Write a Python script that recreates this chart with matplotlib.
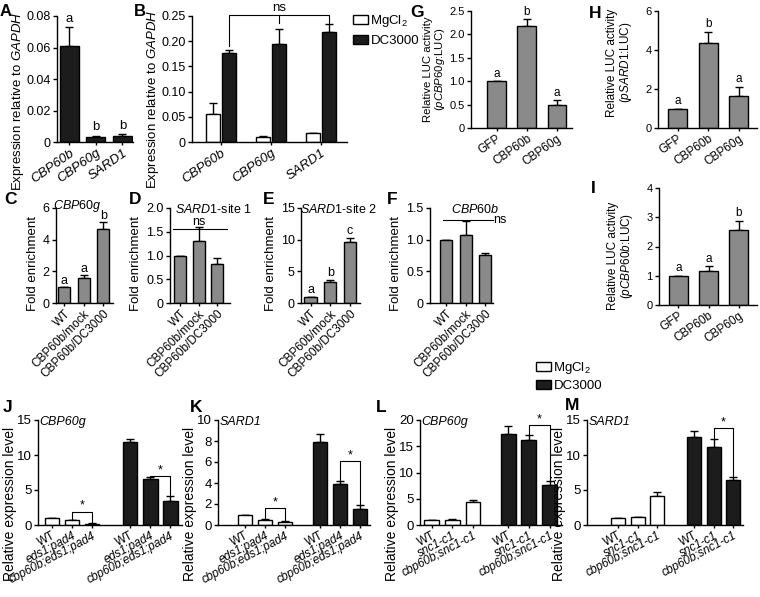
import numpy as np
import matplotlib
matplotlib.use("Agg")
import matplotlib.pyplot as plt
from matplotlib.patches import Patch

plt.rcParams["font.family"] = ["Liberation Sans", "DejaVu Sans"]
plt.rcParams["mathtext.fontset"] = "custom"
plt.rcParams["mathtext.rm"] = "Liberation Sans"
plt.rcParams["mathtext.it"] = "Liberation Sans:italic"
plt.rcParams["font.size"] = 8.5
plt.rcParams["axes.linewidth"] = 1.0

# ---- data ----
a_genes = ["CBP60b", "CBP60g", "SARD1"]
a_mean = [0.061, 0.003, 0.004]
a_err = [0.012, 0.001, 0.001]
a_sig = ["a", "b", "b"]

b_genes = ["CBP60b", "CBP60g", "SARD1"]
b_mgcl2 = [0.056, 0.010, 0.017]
b_mgcl2_err = [0.022, 0.001, 0.001]
b_dc3000 = [0.176, 0.194, 0.218]
b_dc3000_err = [0.007, 0.031, 0.016]

luc_lines = ["GFP", "CBP60b", "CBP60g"]
g_mean = [1.0, 2.18, 0.49]
g_err = [0.0, 0.14, 0.11]
g_sig = ["a", "b", "a"]
h_mean = [1.0, 4.38, 1.65]
h_err = [0.0, 0.55, 0.47]
h_sig = ["a", "b", "a"]
i_mean = [1.0, 1.15, 2.55]
i_err = [0.0, 0.17, 0.33]
i_sig = ["a", "a", "b"]

chip_samples = ["WT", "CBP60b/mock", "CBP60b/DC3000"]
c_mean = [1.0, 1.55, 4.7]
c_err = [0.0, 0.25, 0.4]
c_sig = ["a", "a", "b"]
d_mean = [1.0, 1.3, 0.83]
d_err = [0.0, 0.3, 0.11]
e_mean = [1.0, 3.3, 9.7]
e_err = [0.0, 0.4, 0.6]
e_sig = ["a", "b", "c"]
f_mean = [1.0, 1.07, 0.76]
f_err = [0.0, 0.23, 0.03]

jk_genotypes = ["WT", "eds1;pad4", "cbp60b;eds1;pad4"]
lm_genotypes = ["WT", "snc1-c1", "cbp60b;snc1-c1"]
j_mgcl2 = [1.0, 0.72, 0.2]
j_mgcl2_err = [0.0, 0.0, 0.03]
j_dc = [11.9, 6.6, 3.5]
j_dc_err = [0.45, 0.25, 0.7]
k_mgcl2 = [1.0, 0.52, 0.33]
k_mgcl2_err = [0.0, 0.04, 0.04]
k_dc = [7.95, 3.9, 1.5]
k_dc_err = [0.75, 0.3, 0.45]
l_mgcl2 = [1.0, 1.0, 4.45]
l_mgcl2_err = [0.0, 0.05, 0.35]
l_dc = [17.4, 16.1, 7.7]
l_dc_err = [1.4, 1.0, 0.7]
m_mgcl2 = [1.0, 1.1, 4.1]
m_mgcl2_err = [0.0, 0.05, 0.55]
m_dc = [12.6, 11.1, 6.4]
m_dc_err = [0.85, 1.2, 0.4]

GREY = "#8a8a8a"
BLACK = "#1c1c1c"
W, H = 760, 597

fig = plt.figure(figsize=(7.6, 5.97), dpi=100)


def add_ax(x0, x1, y0, y1, tsize=9.5):
    ax = fig.add_axes([x0 / W, 1 - y1 / H, (x1 - x0) / W, (y1 - y0) / H])
    ax.spines["top"].set_visible(False)
    ax.spines["right"].set_visible(False)
    ax.tick_params(direction="out", length=3, width=1, pad=1.5, labelsize=tsize)
    ax.tick_params(axis="x", length=2)
    return ax


def bars(ax, x, mean, err, color, width):
    ax.bar(x, mean, width, color=color, edgecolor="black", linewidth=1, zorder=2)
    ax.errorbar(x, mean, yerr=[np.zeros(len(err)), err], fmt="none", ecolor="black",
                elinewidth=1, capsize=3, capthick=1, zorder=1)


def sig_letters(ax, x, mean, err, sig, pad, size=9.5):
    for xi, m, e, s in zip(x, mean, err, sig):
        ax.text(xi, m + e + pad, s, ha="center", va="bottom", fontsize=size)


def xlabels(ax, x, labels, rot, italic=None, size=9):
    ax.set_xticks(x)
    ax.set_xticklabels(labels, rotation=rot, ha="right", rotation_mode="anchor", fontsize=size)
    if italic is not None:
        for lbl, it in zip(ax.get_xticklabels(), italic):
            lbl.set_fontstyle("italic" if it else "normal")


def letter(x, y, s, size=12.5):
    fig.text(x / W, 1 - y / H, s, fontsize=size, fontweight="bold", va="top", ha="left")


# ---- A ----
ax = add_ax(57, 133, 16, 142, 9)
xa = np.arange(3)
bars(ax, xa, a_mean, a_err, BLACK, 0.72)
sig_letters(ax, xa, a_mean, a_err, a_sig, 0.0015)
ax.set_xlim(-0.47, 2.4)
ax.set_ylim(0, 0.08)
ax.set_yticks([0, 0.02, 0.04, 0.06, 0.08])
ax.set_yticklabels(["0", "0.02", "0.04", "0.06", "0.08"])
xlabels(ax, xa, a_genes, 35, [True] * 3, 9.5)
ax.set_ylabel(r"Expression relative to $\mathit{GAPDH}$", fontsize=9.5, labelpad=0.5, y=0.32)
letter(0, 4, "A", 12)

# ---- B ----
ax = add_ax(192, 347, 16, 142, 9)
xb = np.arange(3)
bars(ax, xb - 0.16, b_mgcl2, b_mgcl2_err, "white", 0.28)
bars(ax, xb + 0.16, b_dc3000, b_dc3000_err, BLACK, 0.28)
ax.set_xlim(-0.58, 2.52)
ax.set_ylim(0, 0.25)
ax.set_yticks([0, 0.05, 0.10, 0.15, 0.20, 0.25])
ax.set_yticklabels(["0", "0.05", "0.10", "0.15", "0.20", "0.25"])
xlabels(ax, xb, b_genes, 35, [True] * 3, 9.5)
ax.set_ylabel(r"Expression relative to $\mathit{GAPDH}$", fontsize=9.5, labelpad=0.5, y=0.34)
yb = 0.252
ax.plot([0.16, 0.16, 2.16, 2.16], [0.19, yb, yb, 0.236], color="black", lw=0.8, clip_on=False)
ax.plot([1.16, 1.16], [yb, 0.236], color="black", lw=0.8, clip_on=False)
ax.text(1.16, yb + 0.002, "ns", ha="center", va="bottom", fontsize=9.5)
letter(134, 4, "B", 12)
fig.legend(handles=[Patch(facecolor="white", edgecolor="black", label=r"MgCl$_2$"),
                    Patch(facecolor=BLACK, edgecolor="black", label="DC3000")],
           loc="upper left", bbox_to_anchor=(348 / W, 1 - 8 / H), frameon=False,
           fontsize=9.5, handlelength=1.1, handleheight=0.7, handletextpad=0.2,
           labelspacing=0.45, borderaxespad=0)

# ---- G ----
xg = np.arange(3)
ax = add_ax(471, 572, 11, 128, 8)
bars(ax, xg, g_mean, g_err, GREY, 0.62)
sig_letters(ax, xg, g_mean, g_err, g_sig, 0.03, 8.5)
ax.set_xlim(-0.85, 2.5)
ax.set_ylim(0, 2.5)
ax.set_yticks([0, 0.5, 1.0, 1.5, 2.0, 2.5])
ax.set_yticklabels(["0", "0.5", "1.0", "1.5", "2.0", "2.5"])
xlabels(ax, xg, luc_lines, 35, None, 8.5)
ax.set_ylabel("Relative LUC activity\n" + r"($\mathit{pCBP60g}$:LUC)", fontsize=8.2,
              labelpad=1.5, y=0.5, linespacing=1.0)
letter(410, 5, "G")

# ---- H ----
ax = add_ax(658, 757, 11, 128, 8)
bars(ax, xg, h_mean, h_err, GREY, 0.62)
sig_letters(ax, xg, h_mean, h_err, h_sig, 0.08, 8.5)
ax.set_xlim(-0.64, 2.6)
ax.set_ylim(0, 6)
ax.set_yticks([0, 2, 4, 6])
xlabels(ax, xg, luc_lines, 35, None, 8.5)
ax.set_ylabel("Relative LUC activity\n" + r"($\mathit{pSARD1}$:LUC)", fontsize=8.5,
              labelpad=8, y=0.56, linespacing=1.0)
letter(589, 6, "H")

# ---- I ----
ax = add_ax(659, 757, 188, 305, 8)
bars(ax, xg, i_mean, i_err, GREY, 0.62)
sig_letters(ax, xg, i_mean, i_err, i_sig, 0.05, 8.5)
ax.set_xlim(-0.64, 2.6)
ax.set_ylim(0, 4)
ax.set_yticks([0, 1, 2, 3, 4])
xlabels(ax, xg, luc_lines, 35, None, 8.5)
ax.set_ylabel("Relative LUC activity\n" + r"($\mathit{pCBP60b}$:LUC)", fontsize=8.5,
              labelpad=8, y=0.42, linespacing=1.0)
letter(591, 181, "I")

# ---- C ----
xc = np.arange(3)
ax = add_ax(56, 113, 208, 303, 9)
bars(ax, xc, c_mean, c_err, GREY, 0.62)
sig_letters(ax, xc, c_mean, c_err, c_sig, 0.0, 9)
ax.set_xlim(-0.42, 2.5)
ax.set_ylim(0, 6)
ax.set_yticks([0, 2, 4, 6])
xlabels(ax, xc, chip_samples, 45, None, 8.5)
ax.set_ylabel("Fold enrichment", fontsize=9.5, labelpad=3, y=0.42)
ax.text(0.65, 6.12, r"$\mathit{CBP60g}$", ha="center", va="center", fontsize=9, clip_on=False)
letter(4, 192, "C")

# ---- D ----
ax = add_ax(170, 230, 208, 303, 9)
bars(ax, xc, d_mean, d_err, GREY, 0.65)
ax.set_xlim(-0.55, 2.7)
ax.set_ylim(0, 2.0)
ax.set_yticks([0, 0.5, 1.0, 1.5, 2.0])
ax.set_yticklabels(["0", "0.5", "1.0", "1.5", "2.0"])
xlabels(ax, xc, chip_samples, 45, None, 8.5)
ax.set_ylabel("Fold enrichment", fontsize=9.5, labelpad=3, y=0.42)
ax.plot([-0.38, 2.54], [1.56, 1.56], color="black", lw=0.8)
ax.text(1.0, 1.58, "ns", ha="center", va="bottom", fontsize=9)
ax.text(1.8, 1.96, r"$\mathit{SARD1}$-site 1", ha="center", va="center", fontsize=9,
        clip_on=False)
letter(129, 192, "D")

# ---- E ----
ax = add_ax(301, 360, 208, 303, 9)
bars(ax, xc, e_mean, e_err, GREY, 0.62)
sig_letters(ax, xc, e_mean, e_err, e_sig, 0.1, 9)
ax.set_xlim(-0.48, 2.5)
ax.set_ylim(0, 15)
ax.set_yticks([0, 5, 10, 15])
xlabels(ax, xc, chip_samples, 45, None, 8.5)
ax.set_ylabel("Fold enrichment", fontsize=9.5, labelpad=3, y=0.42)
ax.text(1.4, 14.7, r"$\mathit{SARD1}$-site 2", ha="center", va="center", fontsize=9)
letter(263, 192, "E")

# ---- F ----
ax = add_ax(430, 493, 208, 303, 9)
bars(ax, xc, f_mean, f_err, GREY, 0.62)
ax.set_xlim(-0.82, 2.4)
ax.set_ylim(0, 1.5)
ax.set_yticks([0, 0.5, 1.0, 1.5])
ax.set_yticklabels(["0", "0.5", "1.0", "1.5"])
xlabels(ax, xc, chip_samples, 45, None, 8.5)
ax.set_ylabel("Fold enrichment", fontsize=9.5, labelpad=3, y=0.42)
ax.plot([-0.15, 2.4], [1.31, 1.31], color="black", lw=0.8, clip_on=False)
ax.text(2.42, 1.31, "ns", ha="left", va="center", fontsize=9)
ax.text(1.5, 1.47, r"$\mathit{CBP60b}$", ha="center", va="center", fontsize=9)
letter(387, 192, "F")


# ---- J-M ----
def expr_panel(x0, x1, ymax, yticks, gap, xlim, mg, mg_err, dc, dc_err, labels, title, brackets):
    ax = add_ax(x0, x1, 420, 525, 9.5)
    xo = np.arange(3)
    xd = xo + gap
    bars(ax, xo, mg, mg_err, "white", 0.72)
    bars(ax, xd, dc, dc_err, BLACK, 0.72)
    ax.set_xlim(*xlim)
    ax.set_ylim(0, ymax)
    ax.set_yticks(yticks)
    xlabels(ax, np.concatenate([xo, xd]), labels + labels, 28, [False, True, True] * 2, 8.5)
    ax.set_ylabel("Relative expression level", fontsize=10, labelpad=0, y=0.2)
    ax.text(xlim[0] + 0.07, ymax * 0.98, title, fontsize=9,
            fontstyle="italic", ha="left", va="center")
    for xl, xr, yb, yl, yr in brackets:
        ax.plot([xl, xl, xr, xr], [yl, yb, yb, yr], color="black", lw=0.8)
        ax.text((xl + xr) / 2, yb, "*", ha="center", va="bottom", fontsize=9)
    return ax


expr_panel(38, 182, 15, [0, 5, 10, 15], 3.9, (-0.7, 6.48), j_mgcl2, j_mgcl2_err, j_dc, j_dc_err,
           jk_genotypes, "CBP60g",
           [(1, 2, 1.9, 0.72, 0.35), (4.9, 5.9, 7.0, 6.6, 4.2)])
letter(3, 400, "J")
expr_panel(218, 370, 10, [0, 2, 4, 6, 8, 10], 3.75, (-1.35, 6.25), k_mgcl2, k_mgcl2_err, k_dc, k_dc_err,
           jk_genotypes, "SARD1",
           [(1, 2, 1.6, 0.56, 0.37), (4.75, 5.75, 6.1, 4.2, 1.95)])
letter(190, 400, "K")
expr_panel(420, 562, 20, [0, 5, 10, 15, 20], 3.7, (-0.56, 6.3), l_mgcl2, l_mgcl2_err, l_dc, l_dc_err,
           lm_genotypes, "CBP60g",
           [(4.7, 5.7, 19.0, 17.1, 8.4)])
letter(376, 400, "L")
expr_panel(587, 743, 15, [0, 5, 10, 15], 3.9, (-1.6, 6.4), m_mgcl2, m_mgcl2_err, m_dc, m_dc_err,
           lm_genotypes, "SARD1",
           [(4.9, 5.9, 13.8, 12.3, 6.8)])
letter(565, 398, "M")

fig.legend(handles=[Patch(facecolor="white", edgecolor="black", label=r"MgCl$_2$"),
                    Patch(facecolor=BLACK, edgecolor="black", label="DC3000")],
           loc="upper left", bbox_to_anchor=(531 / W, 1 - 355 / H), frameon=False,
           fontsize=9.5, handlelength=1.1, handleheight=0.7, handletextpad=0.2,
           labelspacing=0.25, borderaxespad=0)

fig.savefig("out.png", dpi=100)
